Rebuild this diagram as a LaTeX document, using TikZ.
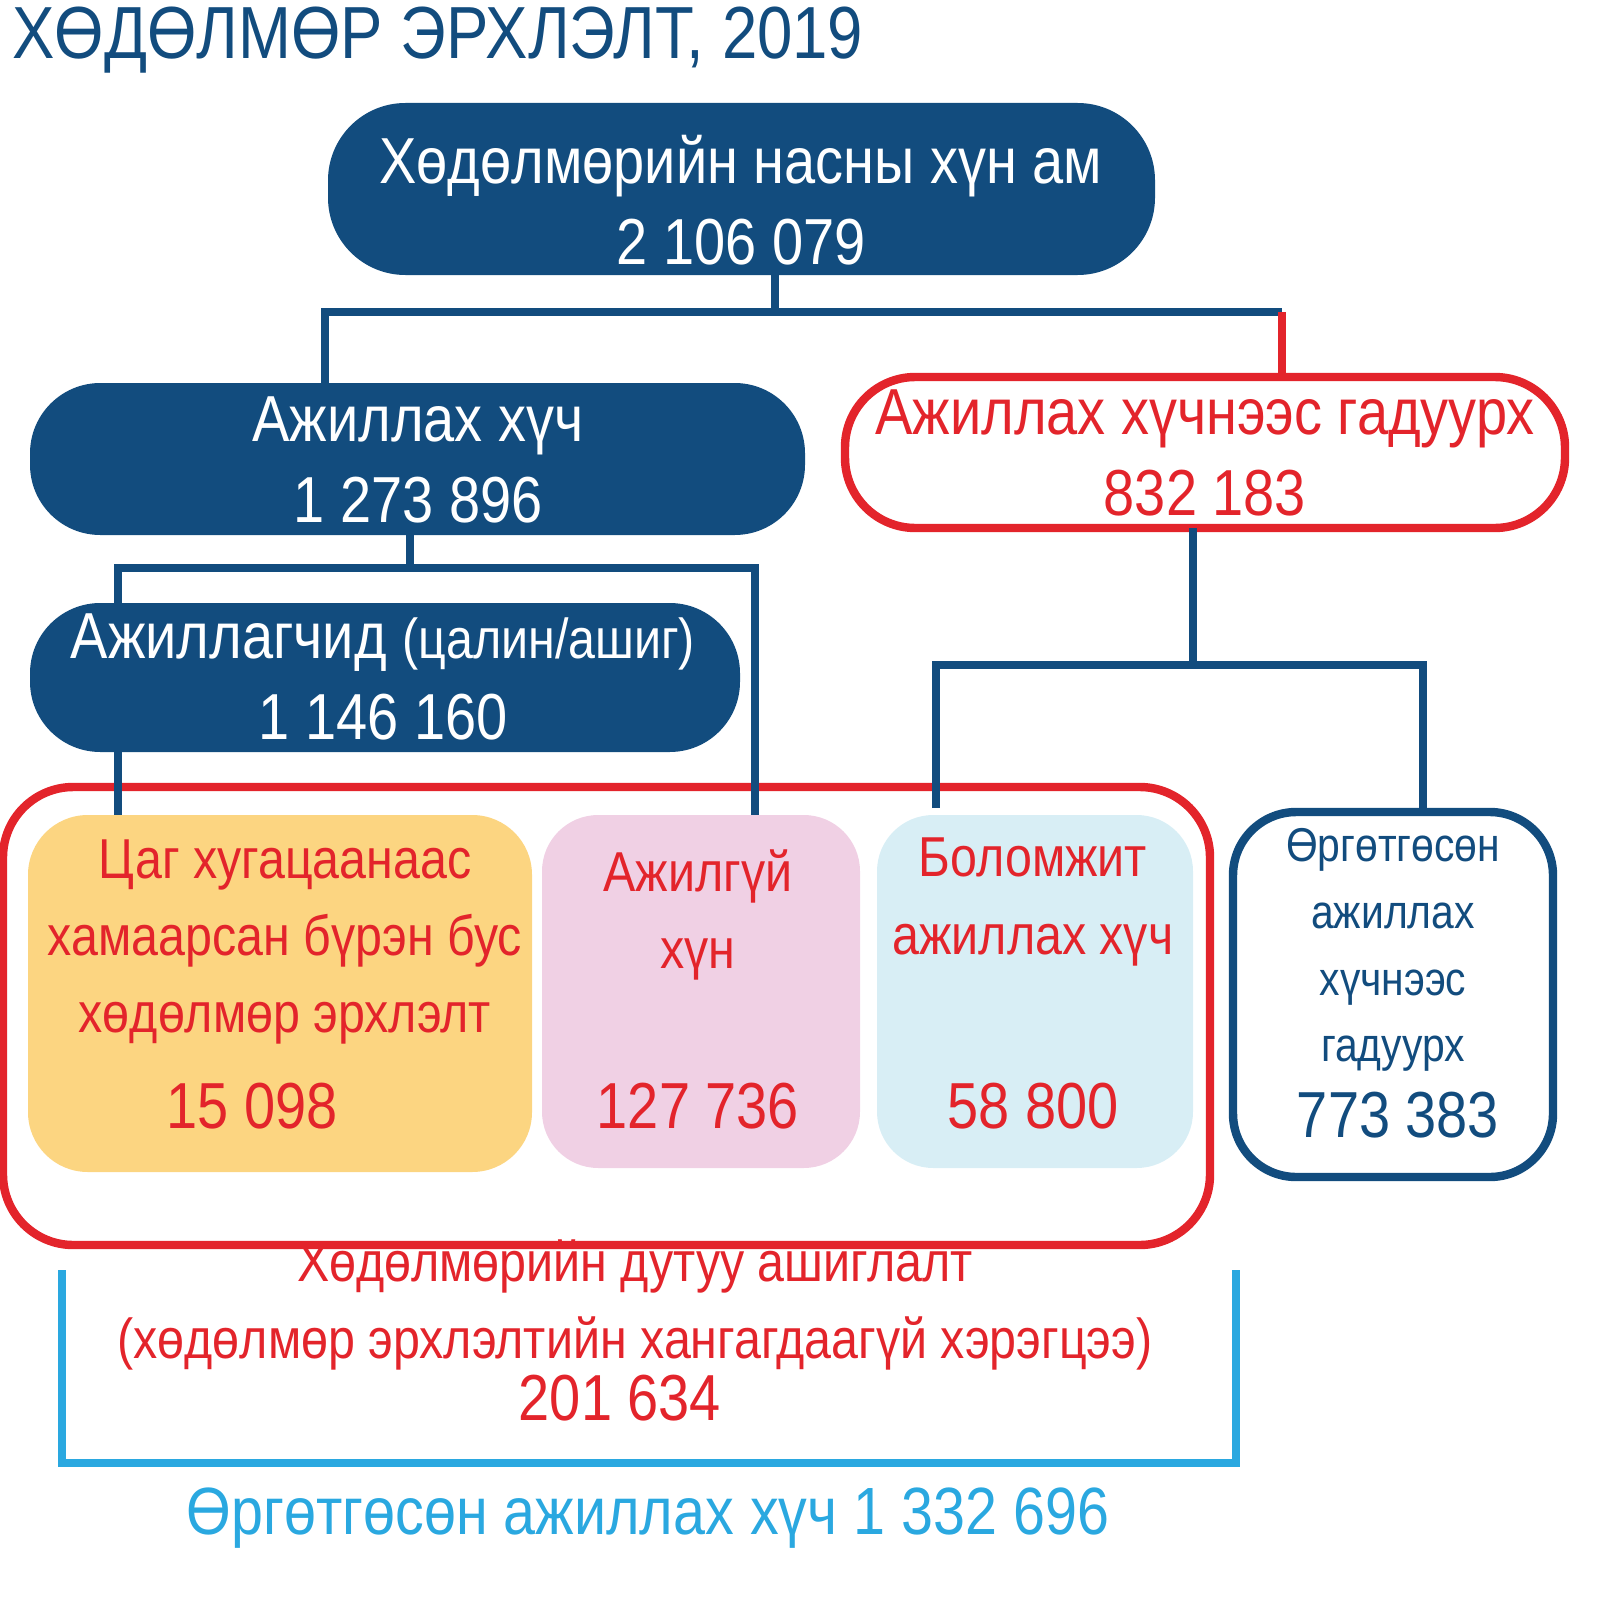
\documentclass[tikz,border=0pt]{standalone}
\usepackage{fontspec}
\setmainfont[FakeStretch=0.86]{Liberation Sans}
\definecolor{dblue}{HTML}{124C7E}
\definecolor{rred}{HTML}{E3242B}
\definecolor{orng}{HTML}{FCD581}
\definecolor{pnk}{HTML}{F0D0E4}
\definecolor{lblue}{HTML}{D8EEF5}
\definecolor{cyn}{HTML}{2AA8E0}
\begin{document}
\begin{tikzpicture}[x=0.01cm,y=0.01cm,
  pill/.style={rounded corners=#1},
  bl/.style={dblue,line width=2.4pt},
  rl/.style={rred,line width=2.4pt},
  big/.style={font=\fontsize{18.5}{23}\selectfont,align=center},
  mid/.style={font=\fontsize{16}{22}\selectfont,align=center},
  sm/.style={font=\fontsize{13.5}{19}\selectfont,align=center}]
\useasboundingbox (0,0) rectangle (1600,-1600);
% boxes
\path[fill=dblue,pill=22pt] (328,-275) rectangle (1155,-103);
\path[fill=dblue,pill=20pt] (30,-535) rectangle (805,-383);
\path[draw=rred,line width=2.4pt,fill=white,pill=20pt] (845,-528) rectangle (1565,-377);
\path[fill=dblue,pill=20pt] (30,-752) rectangle (740,-603);
\path[draw=rred,line width=2.4pt,pill=20pt] (3,-1245) rectangle (1210,-787);
\path[fill=orng,pill=17pt] (28,-1172) rectangle (532,-815);
\path[fill=pnk,pill=16pt] (542,-1168) rectangle (860,-815);
\path[fill=lblue,pill=16pt] (877,-1168) rectangle (1193,-815);
\path[draw=dblue,line width=2.4pt,pill=18pt] (1233,-1177) rectangle (1553,-812);
% texts
\node[anchor=west,dblue,font=\fontsize{21}{25}\selectfont] (title) at (0,-40) {ХӨДӨЛМӨР ЭРХЛЭЛТ, 2019};
\node[big,white] (top) at (741,-200) {Хөдөлмөрийн насны хүн ам\\2 106 079};
\node[big,white] (lf) at (418,-460) {Ажиллах хүч\\1 273 896};
\node[big,rred] (olf) at (1205,-453) {Ажиллах хүчнээс гадуурх\\832 183};
\node[big,white] (emp) at (383,-677) {Ажиллагчид {\fontsize{16}{20}\selectfont(цалин/ашиг)}\\1 146 160};
\node[mid,rred] (tru) at (285,-942) {Цаг хугацаанаас\\хамаарсан бүрэн бус\\хөдөлмөр эрхлэлт};
\node[big,rred] (trun) at (252,-1106) {15 098};
\node[mid,rred] (une) at (698,-915) {Ажилгүй\\хүн};
\node[big,rred] (unen) at (698,-1106) {127 736};
\node[mid,rred] (pot) at (1033,-902) {Боломжит\\ажиллах хүч};
\node[big,rred] (potn) at (1033,-1106) {58 800};
\node[sm,dblue] (ext) at (1393,-950) {Өргөтгөсөн\\ажиллах\\хүчнээс\\гадуурх};
\node[big,dblue] (extn) at (1398,-1115) {773 383};
\node[mid,rred] (under) at (635,-1305) {Хөдөлмөрийн дутуу ашиглалт\\(хөдөлмөр эрхлэлтийн хангагдаагүй хэрэгцээ)};
\node[big,rred] (undern) at (620,-1398) {201 634};
\node[cyn,font=\fontsize{19}{23}\selectfont] (elf) at (648,-1518) {Өргөтгөсөн ажиллах хүч 1 332 696};
% connectors
\draw[bl] (775,-275) -- (775,-312) (325,-383) -- (325,-312) -- (1282,-312);
\draw[rl] (1282,-312) -- (1282,-378);
\draw[bl] (410,-535) -- (410,-568) (118,-603) -- (118,-568) -- (755,-568) -- (755,-815);
\draw[bl] (118,-752) -- (118,-815);
\draw[bl] (1193,-528) -- (1193,-665) (936,-808) -- (936,-665) -- (1423,-665) -- (1423,-812);
\draw[cyn,line width=2.4pt] (62,-1270) -- (62,-1463) -- (1236,-1463) -- (1236,-1270);
\end{tikzpicture}
\end{document}
